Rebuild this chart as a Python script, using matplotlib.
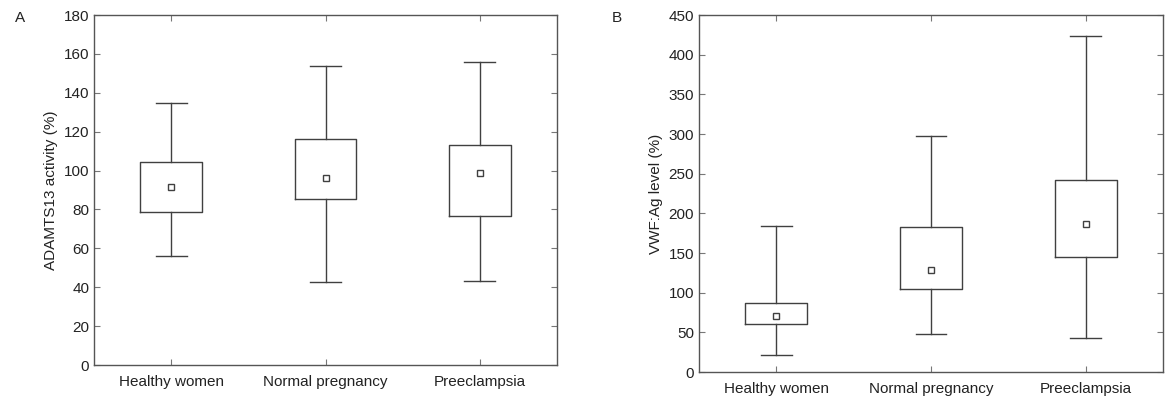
import matplotlib.pyplot as plt

plt.rcParams['font.family'] = ['Liberation Sans', 'DejaVu Sans']

groups = ['Healthy women', 'Normal pregnancy', 'Preeclampsia']

# panel A: ADAMTS13 activity (%)
a_low = [56, 42.5, 43]
a_q1 = [78.5, 85.5, 76.5]
a_mid = [91.5, 96, 98.5]
a_q3 = [104.5, 116, 113]
a_high = [135, 154, 156]

# panel B: VWF:Ag level (%)
b_low = [22, 48, 43]
b_q1 = [60.5, 105, 145]
b_mid = [70, 129, 187]
b_q3 = [87, 183, 242]
b_high = [184, 297, 423]

line_col = '#404040'


def make_stats(low, q1, mid, q3, high):
    stats = []
    for i in range(len(groups)):
        stats.append({'whislo': low[i], 'q1': q1[i], 'med': mid[i], 'mean': mid[i],
                      'q3': q3[i], 'whishi': high[i], 'fliers': []})
    return stats


def draw_panel(ax, stats, ylim, step, ylabel):
    ax.bxp(stats, positions=range(len(groups)), widths=0.4, showmeans=True,
           showfliers=False, capwidths=0.2,
           boxprops=dict(color=line_col, linewidth=1.0),
           whiskerprops=dict(color=line_col, linewidth=1.0),
           capprops=dict(color=line_col, linewidth=1.0),
           medianprops=dict(visible=False),
           meanprops=dict(marker='s', markersize=4.5, markerfacecolor='white',
                          markeredgecolor=line_col, markeredgewidth=1.0))
    ax.set_xlim(-0.5, len(groups) - 0.5)
    ax.set_ylim(*ylim)
    ax.set_yticks(range(ylim[0], ylim[1] + 1, step))
    ax.set_xticks(range(len(groups)))
    ax.set_xticklabels(groups)
    ax.set_ylabel(ylabel, fontsize=11, color='#222222', labelpad=4)
    ax.tick_params(direction='in', top=True, right=True, length=4,
                   color='#777777', labelsize=11, labelcolor='#222222')
    ax.tick_params(axis='x', pad=7)
    for s in ax.spines.values():
        s.set_color('#555555')
        s.set_linewidth(1.0)


fig = plt.figure(figsize=(11.65, 3.98), dpi=100)
ax1 = fig.add_axes([0.0807, 0.0829, 0.3974, 0.8794])
ax2 = fig.add_axes([0.6, 0.0653, 0.3983, 0.897])

draw_panel(ax1, make_stats(a_low, a_q1, a_mid, a_q3, a_high), (0, 180), 20,
           'ADAMTS13 activity (%)')
draw_panel(ax2, make_stats(b_low, b_q1, b_mid, b_q3, b_high), (0, 450), 50,
           'VWF:Ag level (%)')

fig.text(0.0129, 0.945, 'A', fontsize=11, color='#222222')
fig.text(0.525, 0.945, 'B', fontsize=11, color='#222222')

fig.savefig('out.png', dpi=100)
plt.close('all')
